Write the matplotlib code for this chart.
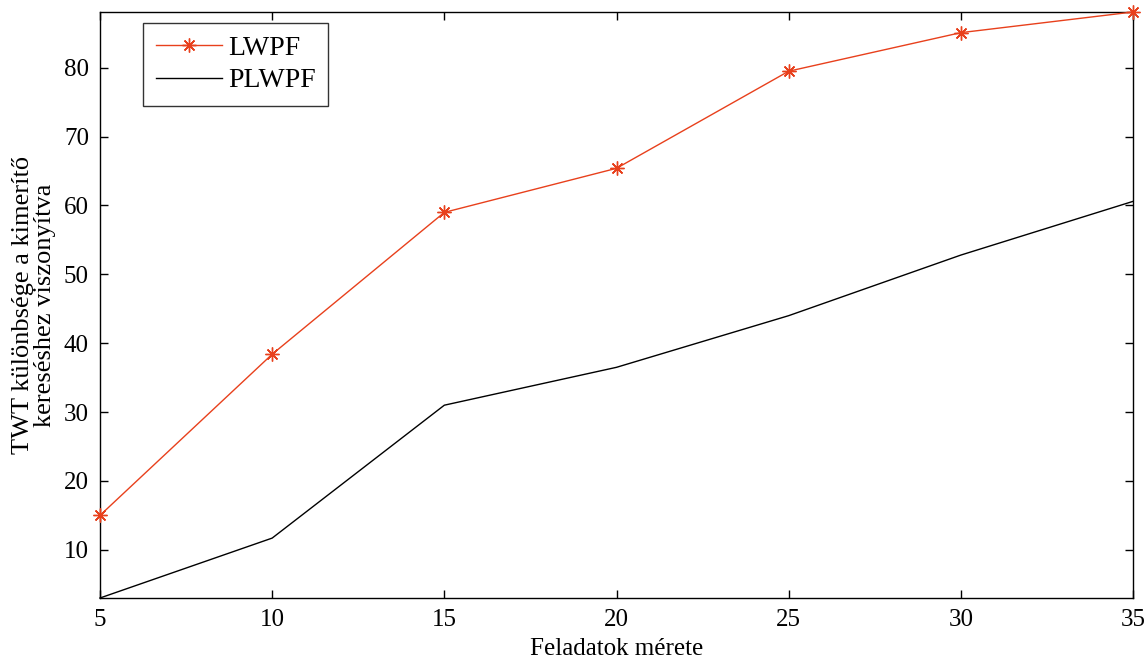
import matplotlib
matplotlib.use("Agg")
import matplotlib.pyplot as plt

x = [5, 10, 15, 20, 25, 30, 35]
lwpf = [15.0, 38.4, 59.0, 65.4, 79.5, 85.1, 88.1]
plwpf = [3.0, 11.7, 31.0, 36.5, 44.0, 52.8, 60.6]
xticks = [5, 10, 15, 20, 25, 30, 35]
yticks = [10, 20, 30, 40, 50, 60, 70, 80]

plt.rcParams['font.family'] = ['Liberation Serif', 'DejaVu Serif']
fig = plt.figure(figsize=(11.46, 6.62), dpi=100)
ax = fig.add_axes([100/1146, 1-598/662, 1033/1146, 586/662])

ax.plot(x, lwpf, color='#e8401c', lw=1.0, marker=(8, 2, 0), markersize=10,
        markeredgecolor='#e8401c', markeredgewidth=1.0,
        label='LWPF', clip_on=False, zorder=3)
ax.plot(x, plwpf, color='black', lw=1.0, label='PLWPF', clip_on=False)

ax.set_xlim(5, 35)
ax.set_ylim(3, 88.1)
ax.set_xticks(xticks)
ax.set_yticks(yticks)
ax.tick_params(direction='in', top=True, right=True, length=6, width=1,
               labelsize=18, pad=8)
for s in ax.spines.values():
    s.set_linewidth(1.0)
ax.set_xlabel('Feladatok mérete', fontsize=18, labelpad=5)
ax.set_ylabel('TWT különbsége a kimerítő\nkereséshez viszonyítva', fontsize=19,
              labelpad=6, linespacing=0.95)

leg = ax.legend(loc='upper left', bbox_to_anchor=(43/1033, 1-11/586), fontsize=20,
                frameon=True, fancybox=False, edgecolor='black', borderpad=0.45,
                handlelength=2.4, labelspacing=0.25, handletextpad=0.2,
                borderaxespad=0)
leg.get_frame().set_linewidth(1.0)

fig.savefig('out.png', dpi=100)
